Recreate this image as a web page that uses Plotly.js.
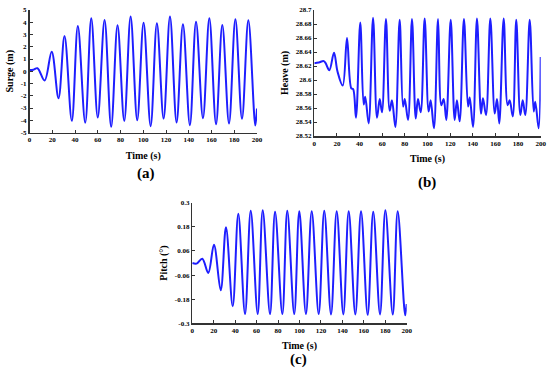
<!DOCTYPE html>
<html>
<head>
<meta charset="utf-8">
<script src="https://cdn.plot.ly/plotly-3.0.1.min.js"></script>
<style>
html,body{margin:0;padding:0;background:#fff;}
#chart{width:550px;height:369px;}
</style>
</head>
<body>
<div id="chart"></div>
<script>
// ---- Data ----
const xTicks = [0, 20, 40, 60, 80, 100, 120, 140, 160, 180, 200];

const surgeTime = [0, 3.5, 7, 13.3, 19.5, 25.5, 30.8, 37.2, 42.5, 49, 54.3, 60, 66, 71.8, 77.4, 83.3, 88.9, 94.7, 100.3, 106.5, 112, 117.9, 123.5, 129.3, 134.9, 141, 146.4, 152.5, 158.1, 164, 169.5, 175.4, 181, 186.8, 192.4, 198.5, 200];
const surgeValues = [0.1, 0.13, 0.25, -0.75, 1.6, -2.2, 2.87, -4.05, 3.69, -4.2, 4.32, -3.77, 4.18, -4.54, 3.75, -4.05, 4.46, -4.0, 3.96, -4.48, 3.91, -3.86, 4.46, -4.18, 3.83, -4.4, 4.05, -3.83, 4.32, -4.32, 3.77, -4.26, 4.24, -3.88, 4.16, -4.43, -3.04];
const surgeTickVals = [-5, -4, -3, -2, -1, 0, 1, 2, 3, 4, 5];
const surgeTickText = ["-5", "-4", "-3", "-2", "-1", "0", "1", "2", "3", "4", "5"];

const heaveTime = [0, 4, 8.3, 10, 13.3, 17.4, 20.5, 25.1, 28.9, 32.7, 34.3, 36.8, 40.6, 43.6, 45, 48, 51.9, 55.4, 57.8, 59.8, 63.3, 66.6, 68.6, 71.6, 75.4, 78.4, 79.9, 82.8, 86.3, 89.6, 91.6, 94, 97.5, 101, 102.8, 105.7, 109.3, 112.2, 114.3, 116.6, 120.5, 124, 126, 128.4, 132.2, 135.8, 137.3, 140.2, 143.7, 147.3, 149, 151.7, 155.5, 159.4, 161.4, 163.4, 167.3, 170.8, 172.6, 175.3, 178.4, 182, 184.1, 186.4, 190.3, 193.8, 195.2, 198.2, 200];
const heaveValues = [28.624, 28.625, 28.627, 28.624, 28.614, 28.639, 28.612, 28.592, 28.660, 28.588, 28.587, 28.546, 28.682, 28.565, 28.576, 28.538, 28.689, 28.546, 28.573, 28.554, 28.687, 28.556, 28.571, 28.533, 28.686, 28.562, 28.573, 28.543, 28.687, 28.545, 28.573, 28.554, 28.688, 28.555, 28.571, 28.531, 28.687, 28.564, 28.573, 28.543, 28.686, 28.543, 28.571, 28.541, 28.687, 28.562, 28.575, 28.533, 28.688, 28.552, 28.574, 28.55, 28.688, 28.552, 28.573, 28.538, 28.688, 28.564, 28.571, 28.548, 28.686, 28.55, 28.571, 28.55, 28.686, 28.555, 28.569, 28.531, 28.633];
const heaveTickVals = [28.52, 28.54, 28.56, 28.58, 28.6, 28.62, 28.64, 28.66, 28.68, 28.7];
const heaveTickText = ["28.52", "28.54", "28.56", "28.58", "28.6", "28.62", "28.64", "28.66", "28.68", "28.7"];

const pitchTime = [0, 4, 9.3, 14.9, 20.2, 26.5, 31.4, 37.7, 42.9, 49.2, 54.5, 61, 65.7, 72.5, 77.2, 84, 88.6, 95.1, 99.8, 106, 111.4, 117.9, 123.1, 129.4, 134.7, 140.9, 145.9, 152.1, 157.4, 163.6, 168.8, 175.1, 180.1, 187, 191.6, 198.6, 200];
const pitchValues = [0.0, -0.003, 0.021, -0.05, 0.091, -0.136, 0.178, -0.215, 0.245, -0.254, 0.26, -0.254, 0.262, -0.254, 0.255, -0.254, 0.26, -0.254, 0.258, -0.254, 0.258, -0.254, 0.26, -0.256, 0.257, -0.256, 0.258, -0.256, 0.258, -0.258, 0.255, -0.256, 0.262, -0.256, 0.258, -0.26, -0.204];
const pitchTickVals = [-0.3, -0.18, -0.06, 0.06, 0.18, 0.3];
const pitchTickText = ["-0.3", "-0.18", "-0.06", "0.06", "0.18", "0.3"];

const panelLabels = ["(a)", "(b)", "(c)"];
const yTitles = ["Surge (m)", "Heave (m)", "Pitch (°)"];
const xTitle = "Time (s)";

// ---- Styling ----
const W = 550, H = 369;
const serif = "Liberation Serif, Times New Roman, serif";
const lineStyle = {color: "#1e1eff", width: 2, shape: "spline", smoothing: 1};
const tickFont = {family: serif, size: 7, color: "#000", weight: "bold"};
const titleFont = {family: serif, size: 10, color: "#000", weight: "bold"};
const panelFont = {family: serif, size: 15, color: "#000", weight: "bold"};

function px2x(a, b) { return [a / W, b / W]; }
function px2y(top, bottom) { return [1 - bottom / H, 1 - top / H]; }

function xAxis(domain, anchor) {
  return {
    domain: domain, anchor: anchor, range: [0, 200],
    tickvals: xTicks, ticktext: xTicks.map(String),
    ticks: "inside", ticklen: 3, tickcolor: "#333", tickwidth: 1,
    showline: true, linecolor: "#333", linewidth: 1.5, mirror: false,
    showgrid: false, zeroline: false,
    tickfont: tickFont,
    title: {text: "<b>" + xTitle + "</b>", font: titleFont, standoff: 8},
    automargin: false, fixedrange: true
  };
}
function yAxis(domain, anchor, range, vals, text, title) {
  return {
    domain: domain, anchor: anchor, range: range,
    tickvals: vals, ticktext: text,
    ticks: "inside", ticklen: 3, tickcolor: "#333", tickwidth: 1,
    showline: true, linecolor: "#333", linewidth: 1.5, mirror: false,
    showgrid: false, zeroline: false,
    tickfont: tickFont,
    title: {text: "<b>" + title + "</b>", font: titleFont, standoff: 5},
    automargin: false, fixedrange: true
  };
}

const traces = [
  {x: surgeTime, y: surgeValues, xaxis: "x", yaxis: "y", type: "scatter", mode: "lines", line: lineStyle, hoverinfo: "skip"},
  {x: heaveTime, y: heaveValues, xaxis: "x2", yaxis: "y2", type: "scatter", mode: "lines", line: lineStyle, hoverinfo: "skip"},
  {x: pitchTime, y: pitchValues, xaxis: "x3", yaxis: "y3", type: "scatter", mode: "lines", line: lineStyle, hoverinfo: "skip"}
];

function panelLabel(text, xpx, ypx) {
  return {text: "<b>" + text + "</b>", x: xpx / W, y: 1 - ypx / H, xref: "paper", yref: "paper",
          xanchor: "center", yanchor: "middle", showarrow: false, font: panelFont};
}

const layout = {
  width: W, height: H,
  margin: {l: 0, r: 0, t: 0, b: 0},
  paper_bgcolor: "#fff", plot_bgcolor: "#fff",
  showlegend: false,
  xaxis: xAxis(px2x(29.5, 257), "y"),
  yaxis: yAxis(px2y(10, 132.5), "x", [-5, 5], surgeTickVals, surgeTickText, yTitles[0]),
  xaxis2: xAxis(px2x(314.3, 540.7), "y2"),
  yaxis2: yAxis(px2y(10, 136), "x2", [28.52, 28.7], heaveTickVals, heaveTickText, yTitles[1]),
  xaxis3: xAxis(px2x(192.3, 406.7), "y3"),
  yaxis3: yAxis(px2y(202.7, 323.3), "x3", [-0.3, 0.3], pitchTickVals, pitchTickText, yTitles[2]),
  annotations: [
    panelLabel(panelLabels[0], 146, 173),
    panelLabel(panelLabels[1], 427, 182),
    panelLabel(panelLabels[2], 299, 359)
  ]
};

Plotly.newPlot("chart", traces, layout, {staticPlot: true, displayModeBar: false});
</script>
</body>
</html>
